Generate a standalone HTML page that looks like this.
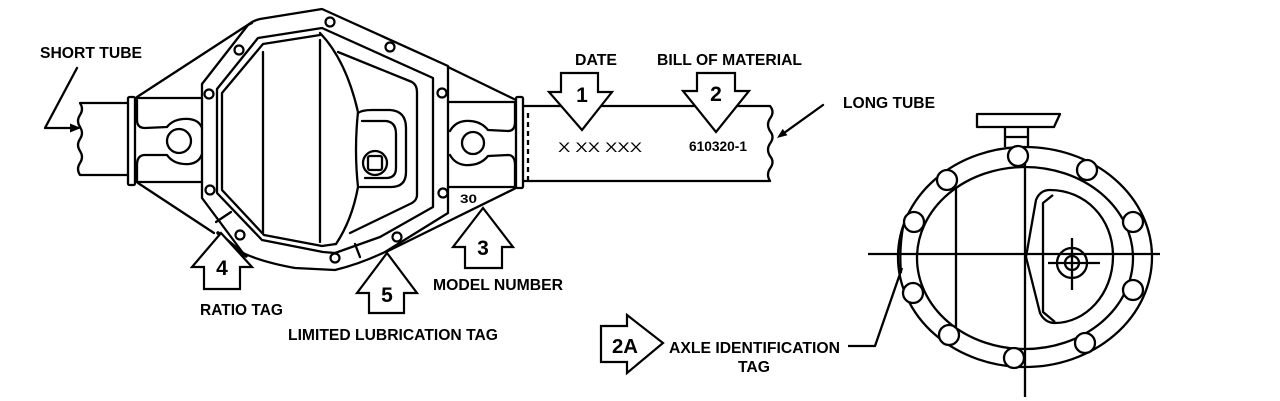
<!DOCTYPE html>
<html>
<head>
<meta charset="utf-8">
<style>
html,body{margin:0;padding:0;background:#fff;}
svg{display:block;}
text{font-family:"Liberation Sans",Arial,sans-serif;font-weight:bold;fill:#000;}
</style>
</head>
<body>
<svg width="1280" height="401" viewBox="0 0 1280 401" xmlns="http://www.w3.org/2000/svg">
<rect width="1280" height="401" fill="#fff"/>

<g fill="none" stroke="#000" stroke-width="2.3" stroke-linejoin="round" stroke-linecap="round">
  <!-- short tube -->
  <path d="M128,103 L80,103 q4,6 0,12 q-4,6 0,12 q4,6 0,12 q-4,6 0,12 q4,6 0,12 q-4,6 0,12 L128,175"/>
  <!-- left flange -->
  <rect x="128" y="97" width="7" height="88" rx="1.5" fill="#fff"/>
  <!-- left arm -->
  <path d="M135,98 L202,98 M135,182 L202,182"/>
  <path d="M202,128 Q199,120 189,119 Q174,118 167,127 L145,128 Q137,128 137,120 L137,100"/>
  <path d="M202,154 Q199,163 189,164 Q174,165 167,155 L145,155 Q137,155 137,165 L137,181"/>
  <circle cx="179" cy="141" r="12"/>
  <!-- housing body diagonals -->
  <path d="M137,97 L243,28 Q247,25 252,23"/>
  <path d="M138,183 L214,233"/>
  <path d="M448,67 L516,100"/>
  <path d="M516,188 L386,252"/>

  <!-- flange outer -->
  <path d="M202,84 L248,25 Q252,21 260,19 L322,9 L448,66 L448,213 L385,252 Q360,264 335,270 L295,268 Q262,262 243,253 L202,198 Z"/>
  <!-- band inner / cover outer -->
  <path d="M217,89 L258,38 L322,28 L433,78 L433,207 L380,237 L335,253 L323,252 L262,240 L217,193 Z"/>
  <!-- cover inner double line -->
  <path d="M320,35 L263,44 L222,93 L222,190 L264,235 L322,246 L336,244"/>
  <!-- cover dome edge -->
  <path d="M320,33 Q346,60 358,112 Q354,150 358,187 Q352,220 336,244"/>
  <!-- raised face line -->
  <path d="M338,52 L412,82 Q417,85 417,92 L417,195 Q417,200 412,203 L350,233"/>
  <!-- vertical lines inside cover -->
  <path d="M263,52 L263,233 M320,40 L320,242"/>
  <!-- fill plug boss -->
  <path d="M358,113 Q362,110 372,110 L390,110 Q406,111 406,128 L406,172 Q406,187 391,187 L360,187"/>
  <path d="M362,121 L386,121 Q396,122 396,134 L396,168 Q396,178 386,178 L365,178"/>
  <circle cx="375" cy="163" r="12"/>
  <rect x="368" y="156" width="14" height="14" rx="2"/>

  <!-- tags -->
  <path d="M216,222 L231,212"/>
  <path d="M218,233 L246,256" stroke-width="3.5"/>
  <path d="M355,244 L360,257"/>

  <!-- right arm -->
  <path d="M448,102 L516,102 M448,187 L516,187"/>
  <path d="M450,131 Q455,122 465,121 Q480,120 488,130 L508,131 Q515,131 515,122 L515,103"/>
  <path d="M450,155 Q455,164 465,165 Q480,166 488,156 L508,155 Q515,155 515,165 L515,186"/>
  <circle cx="473" cy="143" r="11"/>
  <!-- right flange -->
  <rect x="516" y="97" width="7" height="91" rx="1.5" fill="#fff"/>
  <!-- long tube -->
  <path d="M523,106 L770,106 q5,6 0,12.5 q-4,6 0,12.5 q5,6 0,12.5 q-4,6 0,12.5 q5,6 0,12.5 q-4,6 0,12.5 L523,181"/>
  <path d="M528,113 L528,180" stroke-dasharray="5 4" stroke-linecap="butt"/>

  <!-- leaders -->
  <path d="M77,68 L45,128 L72,128"/>
  <path d="M823,105 L784,133"/>
</g>
<polygon points="81,128 70,123.5 70,132.5" fill="#000"/>
<polygon points="777,138 787.4,135.3 782.7,128.9" fill="#000"/>

<!-- bolts on housing -->
<g fill="#fff" stroke="#000" stroke-width="2.2">
  <circle cx="330" cy="22" r="4.5"/>
  <circle cx="390" cy="47" r="4.5"/>
  <circle cx="442" cy="93" r="4.5"/>
  <circle cx="443" cy="193" r="4.5"/>
  <circle cx="397" cy="237" r="4.5"/>
  <circle cx="335" cy="258" r="4.5"/>
  <circle cx="240" cy="235" r="4.5"/>
  <circle cx="210" cy="190" r="4.5"/>
  <circle cx="209" cy="94" r="4.5"/>
  <circle cx="239" cy="50" r="4.5"/>
</g>

<!-- arrows -->
<g fill="#fff" stroke="#000" stroke-width="2.2" stroke-linejoin="miter">
  <polygon points="561,73 598,73 598,92 612,92 582,130 549,92 561,92"/>
  <polygon points="697,73 735,73 735,91 749,91 716,132 683,91 697,91"/>
  <polygon points="221,233 252,267 240,267 240,289 204,289 204,267 192,267"/>
  <polygon points="387,253 417,293 404,293 404,313 369,313 369,293 357,293"/>
  <polygon points="483,208 513,247 502,247 502,268 465,268 465,247 453,247"/>
  <polygon points="601,326 627,326 627,315 663,343 627,373 627,362 601,362"/>
</g>

<!-- right diagram -->
<g fill="none" stroke="#000" stroke-width="2.3" stroke-linejoin="round">
  <ellipse cx="1025" cy="257" rx="127" ry="110"/>
  <ellipse cx="1025" cy="258" rx="108" ry="91"/>
  <path d="M868,254 L1160,254"/>
  <path d="M1025,163 L1025,397"/>
  <path d="M956,187 L956,327"/>
  <!-- top bracket -->
  <path d="M977,114 L1060,114 L1054,127 L977,127 Z" fill="#fff"/>
  <path d="M1005,127 L1005,147 M1028,127 L1028,147 M1005,137 L1028,137"/>
  <!-- D shape -->
  <path d="M1050,190 C1085,190 1113,218 1113,256 C1113,295 1085,323 1055,323 Q1045,323 1040,313 L1026,257 L1036,200 Q1040,190 1050,190 Z"/>
  <path d="M1053,195 L1043,203 L1043,312 L1055,322"/>
  <!-- crosshair -->
  <circle cx="1072" cy="263" r="15"/>
  <circle cx="1072" cy="263" r="7"/>
  <path d="M1048,263 L1100,263 M1072,238 L1072,290"/>
  <!-- tag and leader -->
  <path d="M903,227 Q899,250 901,273"/>
  <path d="M848,346 L875,346 L902,268"/>
</g>
<g fill="#fff" stroke="#000" stroke-width="2.3">
  <circle cx="1018" cy="156" r="10"/>
  <circle cx="1087" cy="170" r="10"/>
  <circle cx="947" cy="180" r="10"/>
  <circle cx="1133" cy="222" r="10"/>
  <circle cx="914" cy="222" r="10"/>
  <circle cx="1133" cy="290" r="10"/>
  <circle cx="913" cy="293" r="10"/>
  <circle cx="1085" cy="343" r="10"/>
  <circle cx="949" cy="335" r="10"/>
  <circle cx="1014" cy="358" r="10"/>
</g>

<!-- text -->
<text x="40" y="58" font-size="15.5" textLength="102" lengthAdjust="spacingAndGlyphs">SHORT TUBE</text>
<text x="575" y="65" font-size="15.5" textLength="42" lengthAdjust="spacingAndGlyphs">DATE</text>
<text x="657" y="65" font-size="15.5" textLength="145" lengthAdjust="spacingAndGlyphs">BILL OF MATERIAL</text>
<text x="843" y="108" font-size="15.5" textLength="92" lengthAdjust="spacingAndGlyphs">LONG TUBE</text>
<text x="558" y="152" font-size="14" style="font-weight:normal" textLength="84" lengthAdjust="spacingAndGlyphs">X XX  XXX</text>
<text x="689" y="151" font-size="13.5" textLength="58" lengthAdjust="spacingAndGlyphs">610320-1</text>
<text x="460" y="203" font-size="12" textLength="17" lengthAdjust="spacingAndGlyphs">30</text>
<text x="200" y="315" font-size="15.5" textLength="83" lengthAdjust="spacingAndGlyphs">RATIO TAG</text>
<text x="433" y="290" font-size="15.5" textLength="130" lengthAdjust="spacingAndGlyphs">MODEL NUMBER</text>
<text x="288" y="340" font-size="15.5" textLength="210" lengthAdjust="spacingAndGlyphs">LIMITED LUBRICATION TAG</text>
<text x="669" y="353" font-size="15.5" textLength="171" lengthAdjust="spacingAndGlyphs">AXLE IDENTIFICATION</text>
<text x="738" y="372" font-size="15.5" textLength="32" lengthAdjust="spacingAndGlyphs">TAG</text>

<text x="582" y="102" font-size="21" text-anchor="middle">1</text>
<text x="716" y="101" font-size="21" text-anchor="middle">2</text>
<text x="222" y="275" font-size="21" text-anchor="middle">4</text>
<text x="387" y="302" font-size="21" text-anchor="middle">5</text>
<text x="483" y="255" font-size="21" text-anchor="middle">3</text>
<text x="612" y="353" font-size="20" textLength="26" lengthAdjust="spacingAndGlyphs">2A</text>
</svg>
</body>
</html>
